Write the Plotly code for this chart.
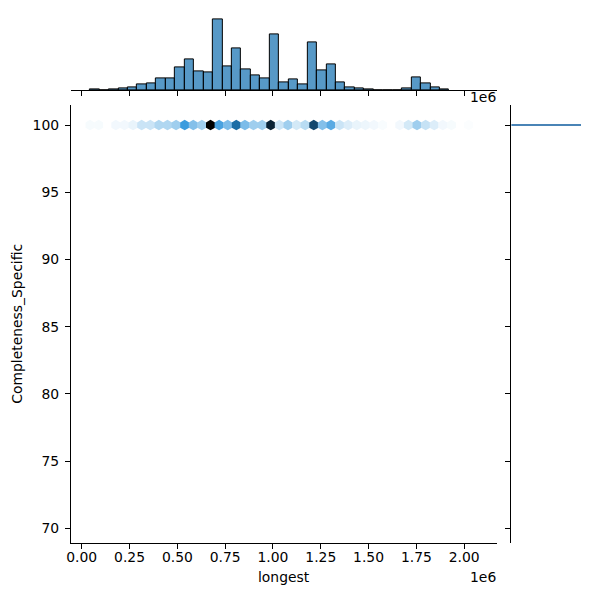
import colorsys
import numpy as np
import plotly.graph_objects as go

# ---------------- data ----------------
# top marginal histogram of "longest" (bin start, bin width, counts)
hist_start = 43300
hist_width = 49440
hist_counts = [2, 0, 2, 5, 8, 17, 20, 35, 35, 68, 92, 56, 53, 212, 71, 125, 62, 44, 35, 167,
               24, 32, 17, 143, 59, 77, 24, 8, 5, 2, 0, 0, 0, 5, 38, 20, 8, 2]

# hexbin along Completeness_Specific = 100 (grid start, step, counts per cell)
hex_start = 43300
hex_step = 45000
hex_y = 100
hex_counts = [5, 5, 0, 7, 7, 11, 25, 25, 37, 37, 45, 90, 57, 45, 200, 84, 61, 124, 61, 45,
              45, 176, 25, 45, 21, 33, 150, 57, 77, 25, 17, 11, 9, 7, 4, 0, 7, 21, 45, 27,
              17, 7, 5, 0, 3, 0]

# right marginal histogram of Completeness_Specific
compl_values = [100]
compl_counts = [sum(hist_counts)]

x_ticks = [0, 250000, 500000, 750000, 1000000, 1250000, 1500000, 1750000, 2000000]
x_ticktext = ["0.00", "0.25", "0.50", "0.75", "1.00", "1.25", "1.50", "1.75", "2.00"]
y_ticks = [70, 75, 80, 85, 90, 95, 100]
y_ticktext = ["70", "75", "80", "85", "90", "95", "100"]

# ---------------- styling helpers ----------------
W = H = 600
FONT = "DejaVu Sans"
FS = 13.9
LW = 1.1
TL = 4.9

# seaborn-style hex colormap: hue/sat of C0, lightness 1 -> 0
r, g, b = 31 / 255, 119 / 255, 180 / 255
h, l, s = colorsys.rgb_to_hls(r, g, b)
colorscale = []
for i, lv in enumerate(np.linspace(1, 0, 12)):
    rr, gg, bb = colorsys.hls_to_rgb(h, lv, s)
    colorscale.append([i / 11, f"rgb({rr*255:.0f},{gg*255:.0f},{bb*255:.0f})"])

hist_x = [hist_start + (i + 0.5) * hist_width for i in range(len(hist_counts))]
hx = [hex_start + i * hex_step for i, c in enumerate(hex_counts) if c > 0]
hc = [c for c in hex_counts if c > 0]

x_rng = [-57000, 2170000]
y_rng = [68.93, 101.49]

def px(x):
    return x / W

def py(y):
    return 1 - y / H

fig = go.Figure()

# hexbin
fig.add_trace(go.Scatter(
    x=hx, y=[hex_y] * len(hx), mode="markers",
    marker=dict(symbol="hexagon", size=10.4, color=hc, colorscale=colorscale,
                cmin=1, cmax=max(hc), line=dict(width=0)),
    xaxis="x", yaxis="y", showlegend=False, hoverinfo="skip"))

# top marginal histogram
fig.add_trace(go.Bar(
    x=hist_x, y=hist_counts, width=hist_width,
    marker=dict(color="rgba(31,119,180,0.75)", line=dict(color="black", width=1)),
    xaxis="x2", yaxis="y2", showlegend=False))

# right marginal histogram
fig.add_trace(go.Bar(
    y=compl_values, x=compl_counts, orientation="h", width=0.2,
    marker=dict(color="#4a84b6", line=dict(width=0)),
    xaxis="x3", yaxis="y3", showlegend=False))

xd = [px(67.3), px(496)]
yd = [py(542.7), py(105)]

axis_common = dict(showgrid=False, zeroline=False, linecolor="black", linewidth=LW,
                   ticks="outside", ticklen=TL, tickwidth=LW, tickcolor="black",
                   tickfont=dict(family=FONT, size=FS, color="black"))

fig.update_layout(
    width=W, height=H, margin=dict(l=0, r=0, t=0, b=0),
    paper_bgcolor="white", plot_bgcolor="white",
    font=dict(family=FONT, size=FS, color="black"),
    bargap=0,
    xaxis=dict(domain=xd, range=x_rng, tickvals=x_ticks, ticktext=x_ticktext,
               showline=True, anchor="y", ticklabelstandoff=-3, **axis_common),
    yaxis=dict(domain=yd, range=y_rng, tickvals=y_ticks, ticktext=y_ticktext,
               showline=True, anchor="x", ticklabelstandoff=3, **axis_common),
    xaxis2=dict(domain=xd, range=x_rng, tickvals=x_ticks, showticklabels=False,
                showline=True, anchor="y2", matches="x", **axis_common),
    yaxis2=dict(domain=[py(90), py(14.4)], range=[0, max(hist_counts) * 1.07],
                visible=False, anchor="x2"),
    xaxis3=dict(domain=[px(510.8), px(584.8)], range=[0, max(compl_counts) * 1.05],
                visible=False, anchor="y3"),
    yaxis3=dict(domain=yd, range=y_rng, tickvals=y_ticks, showticklabels=False,
                showline=True, anchor="x3", matches="y", **axis_common),
)

ann = dict(xref="paper", yref="paper", showarrow=False,
           font=dict(family=FONT, size=FS, color="black"))
fig.add_annotation(text="longest", x=px(282), y=py(577), xanchor="center", yanchor="middle", **ann)
fig.add_annotation(text="Completeness_Specific", x=px(13), y=py(323.8), textangle=-90,
                   xanchor="center", yanchor="middle", **ann)
fig.add_annotation(text="1e6", x=px(497), y=py(577), xanchor="right", yanchor="middle", **ann)
fig.add_annotation(text="1e6", x=px(497), y=py(97), xanchor="right", yanchor="middle", **ann)

fig.write_html("out.html")
